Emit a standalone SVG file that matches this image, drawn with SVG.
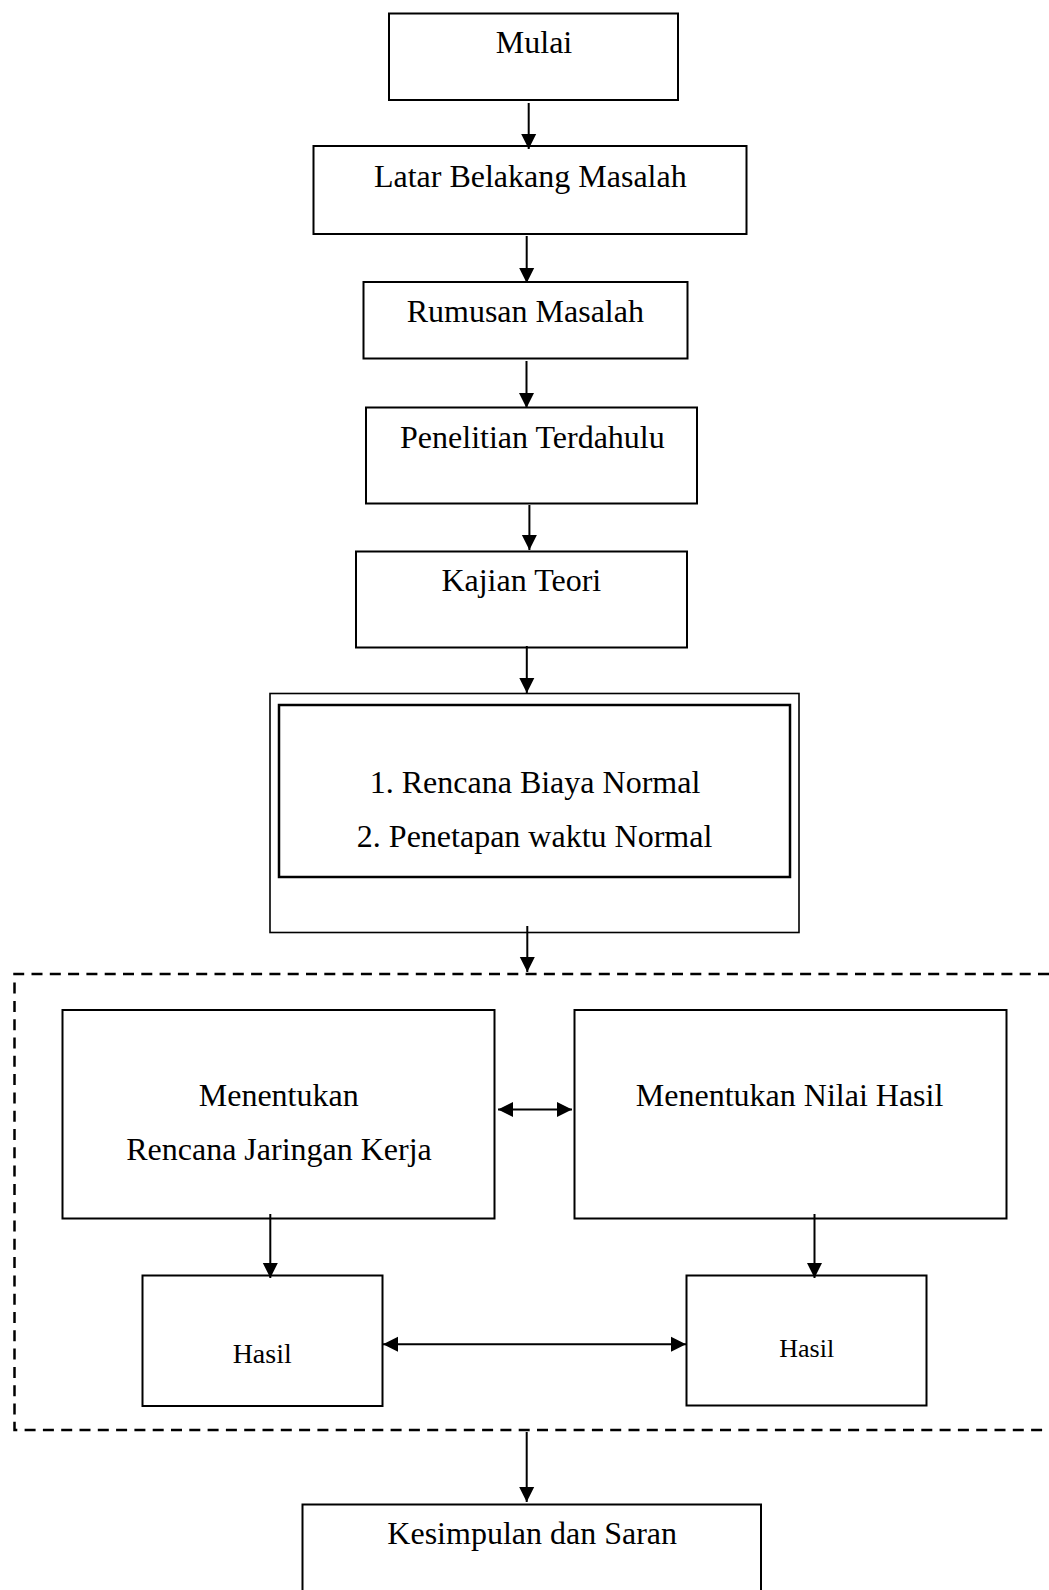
<svg xmlns="http://www.w3.org/2000/svg" width="1049" height="1590" viewBox="0 0 1049 1590">
<style>
.box{fill:#fff;stroke:#000;stroke-width:2}
.thin{fill:none;stroke:#000;stroke-width:1.6}
.thick{fill:none;stroke:#000;stroke-width:2.5}
.dash{fill:none;stroke:#000;stroke-width:2.5;stroke-dasharray:11 7.3}
.con{fill:none;stroke:#000;stroke-width:2}
text{font-family:"Liberation Serif","Times New Roman",serif;font-size:32px;fill:#000;text-anchor:middle}
</style>
<defs>
<marker id="ah" markerUnits="userSpaceOnUse" markerWidth="16" markerHeight="16" refX="15" refY="8" orient="auto-start-reverse" viewBox="0 0 16 16">
<path d="M0,0.5 L15,8 L0,15.5 z" fill="#000"/>
</marker>
</defs>
<rect width="1049" height="1590" fill="#fff"/>
<g id="group-dashed">
<path class="dash" d="M1049,974 H14.5 V1430 H1049"/>
</g>
<g id="n-mulai"><rect class="box" x="389" y="13.5" width="289" height="86.5"/><text x="534" y="53">Mulai</text></g>
<g id="n-latar"><rect class="box" x="313.5" y="146" width="433" height="88"/><text x="530.3" y="186.7">Latar Belakang Masalah</text></g>
<g id="n-rumusan"><rect class="box" x="363.5" y="282" width="324" height="76.5"/><text x="525.3" y="321.7">Rumusan Masalah</text></g>
<g id="n-penelitian"><rect class="box" x="366" y="407.5" width="331" height="96"/><text x="532.4" y="448">Penelitian Terdahulu</text></g>
<g id="n-kajian"><rect class="box" x="356" y="551.5" width="331" height="96"/><text x="521.3" y="591">Kajian Teori</text></g>
<g id="n-rencana">
<rect class="thin" x="270" y="693.5" width="529" height="239"/>
<rect class="thick" x="279" y="705" width="511" height="172"/>
<text x="535" y="792.6">1. Rencana Biaya Normal</text>
<text x="534.6" y="847.1">2. Penetapan waktu Normal</text>
</g>
<g id="n-jaringan"><rect class="box" x="62.5" y="1010" width="432" height="208.5"/><text x="278.7" y="1105.7">Menentukan</text><text x="279" y="1160">Rencana Jaringan Kerja</text></g>
<g id="n-nilai"><rect class="box" x="574.5" y="1010" width="432" height="208.5"/><text x="789.6" y="1105.7">Menentukan Nilai Hasil</text></g>
<g id="n-hasil1"><rect class="box" x="142.5" y="1275.5" width="240" height="130.5"/><text x="262.2" y="1363.3" style="font-size:28px">Hasil</text></g>
<g id="n-hasil2"><rect class="box" x="686.5" y="1275.5" width="240" height="130"/><text x="806.7" y="1356.7" style="font-size:26px">Hasil</text></g>
<g id="n-kesimpulan"><rect class="box" x="302.5" y="1504.5" width="458.5" height="100"/><text x="532.2" y="1544">Kesimpulan dan Saran</text></g>
<g id="connectors">
<line class="con" x1="528.7" y1="103" x2="528.7" y2="149" marker-end="url(#ah)"/>
<line class="con" x1="526.7" y1="236" x2="526.7" y2="283" marker-end="url(#ah)"/>
<line class="con" x1="526.5" y1="361" x2="526.5" y2="408" marker-end="url(#ah)"/>
<line class="con" x1="529.4" y1="505" x2="529.4" y2="550" marker-end="url(#ah)"/>
<line class="con" x1="526.8" y1="646" x2="526.8" y2="693" marker-end="url(#ah)"/>
<line class="con" x1="527.3" y1="926" x2="527.3" y2="972" marker-end="url(#ah)"/>
<line class="con" x1="498" y1="1109.5" x2="572" y2="1109.5" marker-start="url(#ah)" marker-end="url(#ah)"/>
<line class="con" x1="270.3" y1="1214" x2="270.3" y2="1278" marker-end="url(#ah)"/>
<line class="con" x1="814.5" y1="1214" x2="814.5" y2="1278" marker-end="url(#ah)"/>
<line class="con" x1="383" y1="1344.3" x2="686" y2="1344.3" marker-start="url(#ah)" marker-end="url(#ah)"/>
<line class="con" x1="526.7" y1="1432" x2="526.7" y2="1502" marker-end="url(#ah)"/>
</g>
</svg>
